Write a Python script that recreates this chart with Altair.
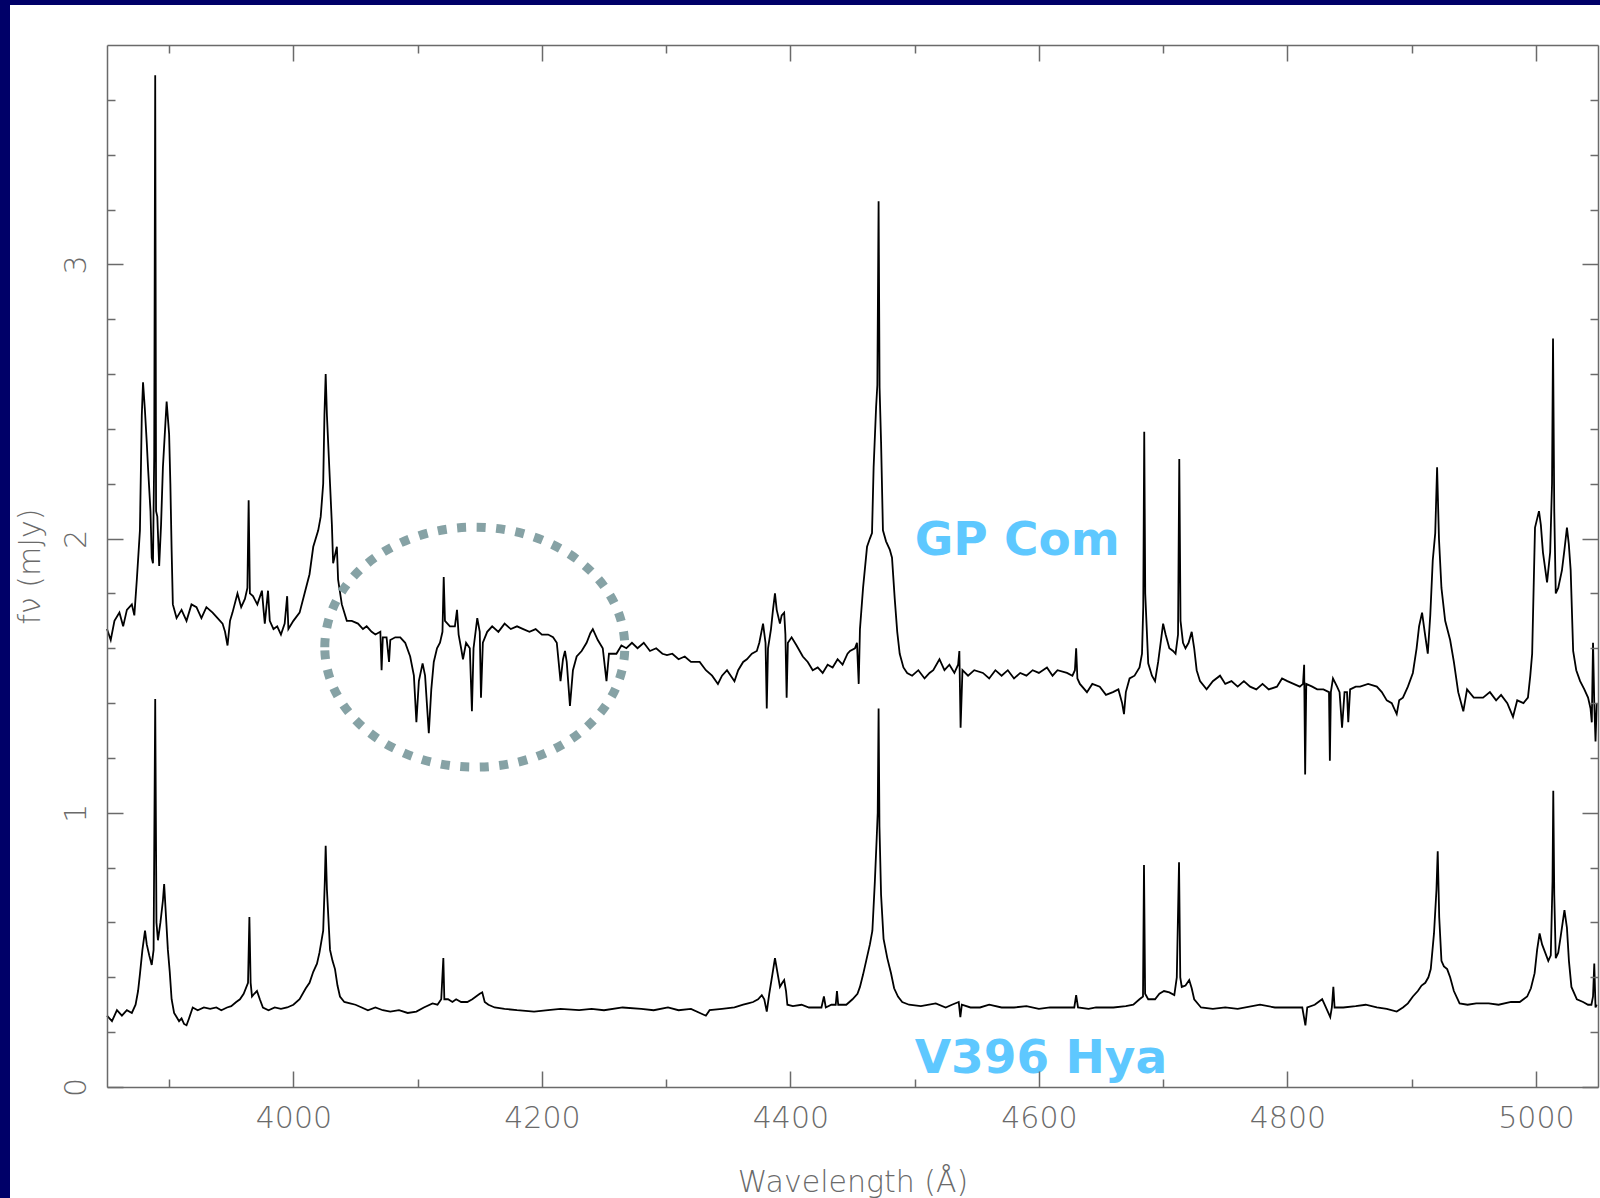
import altair as alt
import pandas as pd

# ---------------- data ----------------
gp_wl = [3850, 3853, 3856, 3860, 3863, 3866, 3870, 3872, 3874, 3876.5, 3878, 3879, 3880.5, 3882, 3883,
         3885, 3886, 3887, 3888, 3888.8, 3889.5, 3890.5, 3892, 3893.5, 3895, 3897, 3898, 3900, 3901, 3902,
         3903, 3906, 3910, 3914, 3918, 3922, 3926, 3930, 3935, 3939, 3943, 3945, 3947, 3949, 3951,
         3955, 3958, 3961, 3963, 3964, 3965, 3967.5, 3971, 3974.7, 3976, 3977, 3979.6, 3981, 3984, 3987,
         3990, 3993, 3995, 3996, 4000, 4005, 4009, 4013, 4016, 4020, 4022, 4024, 4025, 4026, 4027,
         4029.5, 4031, 4032, 4035, 4036, 4039, 4043, 4047, 4052, 4056, 4059, 4063, 4066, 4070, 4071,
         4072, 4075, 4077, 4078, 4082, 4086, 4090, 4094, 4097, 4099, 4101, 4104, 4106, 4109, 4111,
         4113, 4115.6, 4118, 4120, 4121, 4122, 4126, 4130, 4131.7, 4133, 4135, 4136.5, 4139, 4142, 4143.7,
         4145, 4148, 4150, 4151, 4152.5, 4156, 4160, 4165, 4170, 4175, 4180, 4185, 4190, 4195, 4200,
         4205, 4209, 4212, 4215, 4217, 4218.6, 4220, 4222.6, 4225, 4228, 4232, 4236, 4239, 4241, 4245,
         4249, 4252, 4254, 4257, 4260, 4264, 4268, 4272.5, 4277, 4282, 4287, 4292, 4297, 4300.7, 4305,
         4310, 4315, 4320, 4327, 4332, 4337, 4341.7, 4345, 4349, 4352, 4355, 4358, 4362, 4365, 4369,
         4373, 4375, 4378, 4380, 4381, 4382, 4384.4, 4386, 4387.6, 4389, 4391.6, 4393, 4395, 4396, 4397,
         4398, 4401, 4405, 4410, 4414, 4418, 4422, 4426, 4430, 4434, 4438, 4442, 4446, 4448, 4452,
         4453.6, 4455, 4456, 4458.5, 4461.7, 4464, 4465.7, 4467, 4469, 4470, 4471, 4471.8, 4473, 4474.5, 4477,
         4480, 4481.8, 4484, 4486, 4488, 4491, 4494, 4498, 4503, 4508, 4512, 4515, 4520, 4524, 4528,
         4532, 4535, 4536, 4537, 4538.5, 4543, 4548, 4555, 4560, 4565, 4570, 4575, 4580, 4585, 4590,
         4595, 4600, 4606.5, 4611, 4615, 4622.6, 4627, 4629, 4630, 4631, 4633, 4638.7, 4643, 4649, 4654,
         4659.6, 4664, 4667, 4668.5, 4670, 4673, 4677, 4681, 4683, 4684, 4684.8, 4685.6, 4688, 4691, 4693.5,
         4696, 4698, 4700, 4702, 4705, 4708, 4710, 4712, 4713, 4714, 4716, 4718, 4720.5, 4723, 4725,
         4727, 4729.7, 4735, 4740, 4745.8, 4750, 4755, 4760, 4765, 4770, 4775, 4780, 4785, 4791.6, 4795.7,
         4800, 4805, 4810, 4812.6, 4813.5, 4814.3, 4815.2, 4820, 4824, 4829, 4833.5, 4834.2, 4835, 4836.7, 4840,
         4842, 4844, 4846, 4848, 4849, 4850.5, 4855, 4858.5, 4865, 4872, 4876, 4880, 4884, 4888, 4890,
         4893, 4897, 4901, 4904, 4906, 4908.4, 4910.5, 4913, 4915, 4917, 4919, 4920.5, 4922, 4924, 4927,
         4931, 4934, 4937.5, 4941.6, 4944.6, 4950, 4957.5, 4963, 4968, 4972, 4977, 4981.6, 4985, 4990, 4993.6,
         4995.5, 4997, 4999.3, 5002.5, 5004, 5005.7, 5009, 5011.5, 5013, 5013.8, 5014.8, 5016, 5018, 5021, 5023,
         5025, 5026.5, 5028, 5030, 5032.5, 5035.6, 5039, 5042, 5044, 5045, 5046, 5047, 5048, 5049]
gp_flux = [1.67, 1.63, 1.70, 1.73, 1.68, 1.74, 1.76, 1.72, 1.85, 2.03, 2.45, 2.57, 2.47, 2.35, 2.26,
           2.10, 1.93, 1.91, 2.30, 3.69, 2.10, 2.08, 1.90, 2.05, 2.26, 2.42, 2.50, 2.38, 2.20, 1.96,
           1.76, 1.71, 1.74, 1.70, 1.76, 1.75, 1.71, 1.75, 1.73, 1.71, 1.69, 1.66, 1.61, 1.70, 1.73,
           1.80, 1.75, 1.78, 1.82, 2.14, 1.80, 1.79, 1.76, 1.81, 1.74, 1.69, 1.81, 1.70, 1.67, 1.68,
           1.65, 1.69, 1.79, 1.67, 1.70, 1.73, 1.80, 1.87, 1.97, 2.03, 2.08, 2.20, 2.45, 2.60, 2.45,
           2.20, 2.05, 1.91, 1.97, 1.85, 1.76, 1.70, 1.70, 1.69, 1.67, 1.68, 1.66, 1.65, 1.66, 1.52,
           1.64, 1.64, 1.55, 1.63, 1.64, 1.64, 1.62, 1.57, 1.50, 1.33, 1.48, 1.545, 1.50, 1.29, 1.45,
           1.55, 1.60, 1.62, 1.66, 1.86, 1.70, 1.68, 1.68, 1.74, 1.65, 1.60, 1.56, 1.62, 1.60, 1.37,
           1.60, 1.71, 1.66, 1.42, 1.62, 1.66, 1.68, 1.66, 1.69, 1.67, 1.68, 1.67, 1.66, 1.67, 1.65,
           1.65, 1.64, 1.62, 1.48, 1.56, 1.59, 1.55, 1.39, 1.52, 1.57, 1.59, 1.62, 1.655, 1.67, 1.63,
           1.60, 1.48, 1.58, 1.58, 1.58, 1.61, 1.60, 1.62, 1.60, 1.62, 1.59, 1.60, 1.58, 1.575, 1.58,
           1.56, 1.57, 1.55, 1.55, 1.52, 1.50, 1.47, 1.50, 1.52, 1.50, 1.48, 1.52, 1.55, 1.56, 1.58,
           1.59, 1.62, 1.69, 1.62, 1.38, 1.60, 1.67, 1.74, 1.80, 1.74, 1.69, 1.72, 1.73, 1.65, 1.42,
           1.62, 1.64, 1.61, 1.57, 1.55, 1.52, 1.53, 1.51, 1.54, 1.53, 1.56, 1.54, 1.58, 1.59, 1.60,
           1.62, 1.47, 1.67, 1.82, 1.97, 2.00, 2.02, 2.26, 2.48, 2.56, 3.23, 2.55, 2.35, 2.03, 1.99,
           1.96, 1.93, 1.78, 1.66, 1.58, 1.53, 1.51, 1.50, 1.52, 1.49, 1.51, 1.52, 1.56, 1.52, 1.54,
           1.51, 1.54, 1.59, 1.31, 1.52, 1.50, 1.52, 1.51, 1.49, 1.52, 1.50, 1.52, 1.49, 1.51, 1.50,
           1.52, 1.51, 1.53, 1.50, 1.52, 1.51, 1.50, 1.52, 1.60, 1.49, 1.47, 1.44, 1.47, 1.46, 1.43,
           1.44, 1.45, 1.40, 1.36, 1.44, 1.49, 1.50, 1.53, 1.58, 1.75, 2.39, 1.80, 1.545, 1.50, 1.48,
           1.55, 1.62, 1.69, 1.65, 1.60, 1.59, 1.58, 1.65, 2.29, 1.70, 1.62, 1.60, 1.62, 1.66, 1.60,
           1.52, 1.48, 1.45, 1.48, 1.50, 1.47, 1.48, 1.46, 1.48, 1.46, 1.45, 1.47, 1.45, 1.46, 1.49,
           1.48, 1.47, 1.46, 1.47, 1.54, 1.14, 1.47, 1.46, 1.45, 1.45, 1.44, 1.19, 1.44, 1.49, 1.46,
           1.44, 1.31, 1.44, 1.44, 1.33, 1.45, 1.46, 1.46, 1.47, 1.46, 1.44, 1.41, 1.40, 1.36, 1.41,
           1.42, 1.46, 1.51, 1.60, 1.68, 1.73, 1.66, 1.58, 1.72, 1.92, 2.02, 2.26, 2.00, 1.82, 1.70,
           1.63, 1.55, 1.44, 1.37, 1.45, 1.42, 1.42, 1.44, 1.41, 1.43, 1.40, 1.35, 1.41, 1.40, 1.42,
           1.50, 1.58, 2.04, 2.10, 2.05, 1.95, 1.84, 1.95, 2.20, 2.73, 2.10, 1.80, 1.82, 1.885, 1.96,
           2.04, 1.98, 1.885, 1.59, 1.52, 1.48, 1.45, 1.42, 1.38, 1.33, 1.62, 1.40, 1.26, 1.40]

v3_wl = [3850, 3854, 3858, 3862, 3866, 3870, 3873, 3875, 3876.6, 3878.5, 3880.6, 3882, 3884, 3886, 3887.5,
         3888.8, 3889.8, 3891, 3893, 3895, 3896, 3897.5, 3899, 3900.5, 3902, 3904, 3906, 3908, 3910, 3912,
         3914, 3916, 3919, 3923, 3928, 3933, 3938, 3942, 3946.6, 3950, 3954, 3957, 3960, 3963.5, 3964.6,
         3965.6, 3966.7, 3968.5, 3970.7, 3973, 3975.5, 3980, 3985, 3990, 3995, 4000, 4005, 4010, 4013, 4016,
         4019, 4021, 4024, 4025.3, 4026, 4027, 4029.5, 4031.5, 4033.5, 4035.5, 4037.5, 4041, 4045.6, 4050, 4055,
         4060, 4066, 4072, 4078, 4085, 4092, 4099, 4105, 4112, 4116, 4119, 4120.7, 4121.5, 4124.5, 4128,
         4131, 4135, 4140, 4144, 4147, 4150, 4152, 4154, 4157, 4162, 4170, 4180, 4193.7, 4205, 4215,
         4230, 4240, 4250, 4265, 4280, 4290, 4301.5, 4310, 4320, 4332, 4335, 4345, 4355, 4362, 4366,
         4370, 4374, 4377, 4379, 4381, 4383, 4385.5, 4387.6, 4389.5, 4391.6, 4393.5, 4395, 4396.5, 4397.6, 4402,
         4409, 4415, 4420, 4425, 4427, 4428.5, 4433, 4436.5, 4437.5, 4438.5, 4445, 4450, 4454, 4456, 4458.5,
         4461, 4464, 4466, 4468, 4469.5, 4470.3, 4471, 4471.7, 4473, 4475, 4478, 4481, 4483.5, 4486.6, 4490,
         4495.5, 4505, 4517, 4525, 4530, 4535.5, 4536.8, 4538, 4545, 4552.6, 4560, 4570, 4580, 4590, 4600,
         4609, 4620, 4628.5, 4630, 4631.5, 4640, 4646, 4651.6, 4660, 4670, 4676, 4681, 4683.8, 4684.6, 4685.5,
         4688, 4693.5, 4697, 4700.7, 4705, 4709, 4711, 4712.8, 4713.8, 4715, 4718, 4721, 4723, 4725, 4730.5,
         4740, 4750, 4760, 4778, 4790, 4806.6, 4812, 4814.5, 4816, 4822, 4828, 4831, 4834.5, 4835.8, 4837,
         4838, 4845, 4855, 4863, 4872, 4880, 4888, 4893, 4897, 4901, 4905, 4908, 4911, 4913.5, 4915.4,
         4918, 4920, 4921, 4922.2, 4924, 4926, 4928.6, 4931, 4934, 4938.6, 4945, 4952, 4962, 4970, 4980,
         4987, 4993, 4996, 4999, 5001, 5003, 5005, 5007.5, 5010, 5012, 5013.4, 5014, 5014.8, 5016, 5018,
         5020, 5023, 5025, 5026.6, 5028.6, 5033, 5038, 5042, 5044.7, 5046, 5047, 5048, 5049]
v3_flux = [0.26, 0.24, 0.28, 0.26, 0.28, 0.27, 0.30, 0.35, 0.415, 0.50, 0.57, 0.52, 0.48, 0.445, 0.50,
           1.415, 0.60, 0.535, 0.60, 0.68, 0.74, 0.62, 0.50, 0.42, 0.32, 0.27, 0.255, 0.24, 0.25, 0.23,
           0.225, 0.25, 0.29, 0.28, 0.29, 0.285, 0.29, 0.28, 0.29, 0.295, 0.31, 0.32, 0.34, 0.38, 0.62,
           0.38, 0.33, 0.34, 0.35, 0.32, 0.29, 0.28, 0.29, 0.285, 0.29, 0.30, 0.32, 0.36, 0.38, 0.42,
           0.45, 0.49, 0.57, 0.75, 0.88, 0.72, 0.50, 0.46, 0.43, 0.37, 0.33, 0.31, 0.305, 0.30, 0.29,
           0.28, 0.29, 0.28, 0.275, 0.28, 0.27, 0.275, 0.29, 0.305, 0.30, 0.32, 0.47, 0.32, 0.32, 0.31,
           0.32, 0.31, 0.31, 0.32, 0.33, 0.34, 0.345, 0.31, 0.30, 0.29, 0.285, 0.28, 0.275, 0.28, 0.285,
           0.28, 0.285, 0.28, 0.29, 0.285, 0.28, 0.29, 0.28, 0.285, 0.26, 0.28, 0.285, 0.29, 0.30, 0.305,
           0.31, 0.32, 0.335, 0.32, 0.275, 0.34, 0.41, 0.47, 0.42, 0.365, 0.38, 0.39, 0.35, 0.30, 0.295,
           0.30, 0.29, 0.29, 0.29, 0.33, 0.29, 0.30, 0.30, 0.35, 0.30, 0.30, 0.32, 0.34, 0.365, 0.41,
           0.46, 0.52, 0.57, 0.75, 0.91, 1.00, 1.38, 0.95, 0.70, 0.54, 0.47, 0.415, 0.36, 0.33, 0.31,
           0.30, 0.295, 0.305, 0.29, 0.30, 0.31, 0.255, 0.30, 0.29, 0.29, 0.30, 0.29, 0.29, 0.295, 0.285,
           0.29, 0.29, 0.29, 0.335, 0.29, 0.285, 0.29, 0.29, 0.29, 0.295, 0.30, 0.32, 0.33, 0.81, 0.34,
           0.32, 0.32, 0.34, 0.35, 0.345, 0.335, 0.40, 0.82, 0.40, 0.365, 0.37, 0.39, 0.36, 0.32, 0.29,
           0.285, 0.29, 0.285, 0.30, 0.29, 0.29, 0.29, 0.225, 0.29, 0.30, 0.32, 0.29, 0.255, 0.29, 0.365,
           0.29, 0.29, 0.295, 0.30, 0.29, 0.285, 0.275, 0.29, 0.305, 0.33, 0.35, 0.37, 0.38, 0.40, 0.43,
           0.56, 0.72, 0.86, 0.62, 0.46, 0.44, 0.43, 0.40, 0.35, 0.305, 0.30, 0.305, 0.305, 0.30, 0.31,
           0.31, 0.33, 0.36, 0.415, 0.50, 0.56, 0.52, 0.49, 0.46, 0.48, 0.75, 1.08, 0.70, 0.47, 0.49,
           0.55, 0.645, 0.58, 0.46, 0.365, 0.32, 0.31, 0.30, 0.30, 0.33, 0.45, 0.29, 0.30]

x_major = [4000, 4200, 4400, 4600, 4800, 5000]
x_minor = [3900, 4100, 4300, 4500, 4700, 4900]
y_major = [0, 1, 2, 3]
y_minor = [0.2, 0.4, 0.6, 0.8, 1.2, 1.4, 1.6, 1.8, 2.2, 2.4, 2.6, 2.8, 3.2, 3.4, 3.6]

label_names = ["GP Com", "V396 Hya"]
label_wl = [4500, 4500]
label_flux = [1.94, 0.05]

circle_wl = [4146]
circle_flux = [1.604]

# ---------------- layout / style ----------------
W, H = 1491, 1042
FONT = "DejaVu Sans"
GREY = "#6a6a6a"
NAVY = "#000068"

spec_df = pd.concat([
    pd.DataFrame({"wl": gp_wl, "flux": gp_flux, "star": "GP Com"}),
    pd.DataFrame({"wl": v3_wl, "flux": v3_flux, "star": "V396 Hya"}),
], ignore_index=True)
lab_df = pd.DataFrame({"wl": label_wl, "flux": label_flux, "name": label_names})
circ_df = pd.DataFrame({"wl": circle_wl, "flux": circle_flux})
panel_df = pd.DataFrame({"panel": ["bg"]})

xs = alt.Scale(domain=[3850, 5050], nice=False, zero=False)
ys = alt.Scale(domain=[0, 3.8], nice=False, zero=False)


def ax(**kw):
    base = dict(grid=False, zindex=1, domainColor=GREY, tickColor=GREY,
                domainWidth=1.5, tickWidth=1.5, labelColor=GREY, titleColor=GREY)
    base.update(kw)
    return alt.Axis(**base)


bg = alt.Chart(panel_df).mark_rect(color="white").encode(
    x=alt.value(-97), x2=alt.value(W + 2), y=alt.value(-40), y2=alt.value(H + 111))

lines = alt.Chart(spec_df).mark_line(color="black", strokeWidth=1.8, strokeJoin="miter").encode(
    x=alt.X("wl:Q", scale=xs, axis=ax(
        orient="bottom", values=x_major, format="d", ticks=False, tickSize=0,
        labelPadding=16, labelFont=FONT, labelFontSize=30, labelFontWeight=200,
        labelFlush=False, domain=True,
        title="Wavelength (Å)", titleFont=FONT, titleFontSize=30, titleFontWeight=200,
        titleY=95, titleBaseline="middle")),
    y=alt.Y("flux:Q", scale=ys, axis=ax(
        orient="left", values=y_major, format="d", ticks=False, tickSize=0,
        labelAngle=270, labelAlign="center", labelBaseline="alphabetic",
        labelPadding=22, labelFont=FONT, labelFontSize=30, labelFontWeight=200,
        labelFlush=False, domain=True,
        title="fν (mJy)", titleFont=FONT, titleFontSize=30, titleFontWeight=200,
        titleX=-77, titleBaseline="middle", titleAngle=270)),
    detail="star:N",
)

circle = alt.Chart(circ_df).mark_point(
    shape="M -1 0 A 1 0.8 0 1 1 1 0 A 1 0.8 0 1 1 -1 0 Z",
    size=90000, filled=False, color="#86A2A5", strokeWidth=9,
    strokeDash=[9, 10.5], strokeCap="butt", opacity=1,
).encode(
    x=alt.X("wl:Q", scale=xs, axis=None),
    y=alt.Y("flux:Q", scale=ys, axis=None),
)

labels = alt.Chart(lab_df).mark_text(
    align="left", baseline="alphabetic", font=FONT, fontSize=47,
    fontWeight="bold", color="#5EC8FF",
).encode(
    x=alt.X("wl:Q", scale=xs, axis=None),
    y=alt.Y("flux:Q", scale=ys, axis=None),
    text="name:N",
)


def tick_layer(xorient, yorient, xvals, yvals, size, domain):
    return alt.Chart(spec_df).mark_point(opacity=0, size=1).encode(
        x=alt.X("wl:Q", scale=xs, axis=ax(
            orient=xorient, offset=-H, values=xvals, tickSize=size,
            labels=False, domain=domain, title=None)),
        y=alt.Y("flux:Q", scale=ys, axis=ax(
            orient=yorient, offset=-W, values=yvals, tickSize=size,
            labels=False, domain=domain, title=None)),
    )


# ticks pointing into the frame on all four sides
t_bl_major = tick_layer("top", "right", x_major, y_major, 16, False)
t_bl_minor = tick_layer("top", "right", x_minor, y_minor, 8, False)
t_tr_major = tick_layer("bottom", "left", x_major, y_major, 16, True)
t_tr_minor = tick_layer("bottom", "left", x_minor, y_minor, 8, False)

chart = alt.layer(
    bg, lines, circle, labels, t_bl_major, t_bl_minor, t_tr_major, t_tr_minor
).resolve_axis(
    x="independent", y="independent"
).properties(
    width=W, height=H,
    autosize=alt.AutoSizeParams(type="none"),
    padding={"left": 107, "top": 45, "right": 2, "bottom": 111},
    background=NAVY,
).configure_view(strokeWidth=0)

chart.save("out.html", embed_options={"renderer": "svg", "actions": False})
